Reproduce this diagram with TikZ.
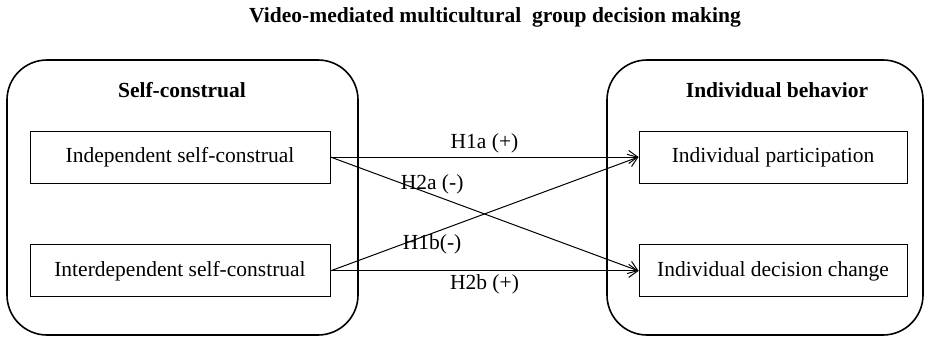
\documentclass[tikz,border=0pt]{standalone}
\usepackage{fontspec}
\setmainfont{Liberation Serif}
\usetikzlibrary{arrows.meta,positioning}

\begin{document}
\begin{tikzpicture}[x=1pt,y=-1pt,semithick,
                    >={Straight Barb[length=9pt,width=13pt]},
                    font=\fontsize{21.5}{25}\selectfont]
  \tikzstyle{group}=[draw,line width=1.6pt,rounded corners=40pt,
                     minimum height=275pt]
  \tikzstyle{var}=[draw,line width=0.9pt,minimum height=52pt]
  \tikzstyle{head}=[font=\fontsize{21.5}{25}\selectfont\bfseries]

	\useasboundingbox (0,0) rectangle (926,337);

	\node[head]	(title)	at (495,17)	{Video-mediated multicultural~ group decision making};

	\node[group, minimum width=351pt]	(self)	at (182.5,197.5)	{};
	\node[group, minimum width=316pt]	(behav)	at (765,197.5)	{};
	\node[head]	(selfhd)	at (182,90)	{Self-construal};
	\node[head]	(behavhd)	at (777,90)	{Individual behavior};

	\node[var, minimum width=300pt]	(ind)	at (180,157)	{Independent self-construal};
	\node[var, minimum width=300pt]	(inter)	[below=61pt of ind]	{Interdependent self-construal};
	\node[var, minimum width=268pt]	(part)	at (773,157)	{Individual participation};
	\node[var, minimum width=268pt]	(chg)	[below=61pt of part]	{Individual decision change};

	\path[->,line width=1pt]
		(ind.east)   edge	node[above]	{H1a (+)} (part.west)
		             edge	node[pos=0.33, anchor=south, inner sep=0pt] {H2a (-)} (chg.west)
		(inter.east) edge	node[pos=0.33, anchor=north, inner sep=1pt] {H1b(-)} (part.west)
		             edge	node[below]	{H2b (+)} (chg.west);

\end{tikzpicture}
\end{document}
